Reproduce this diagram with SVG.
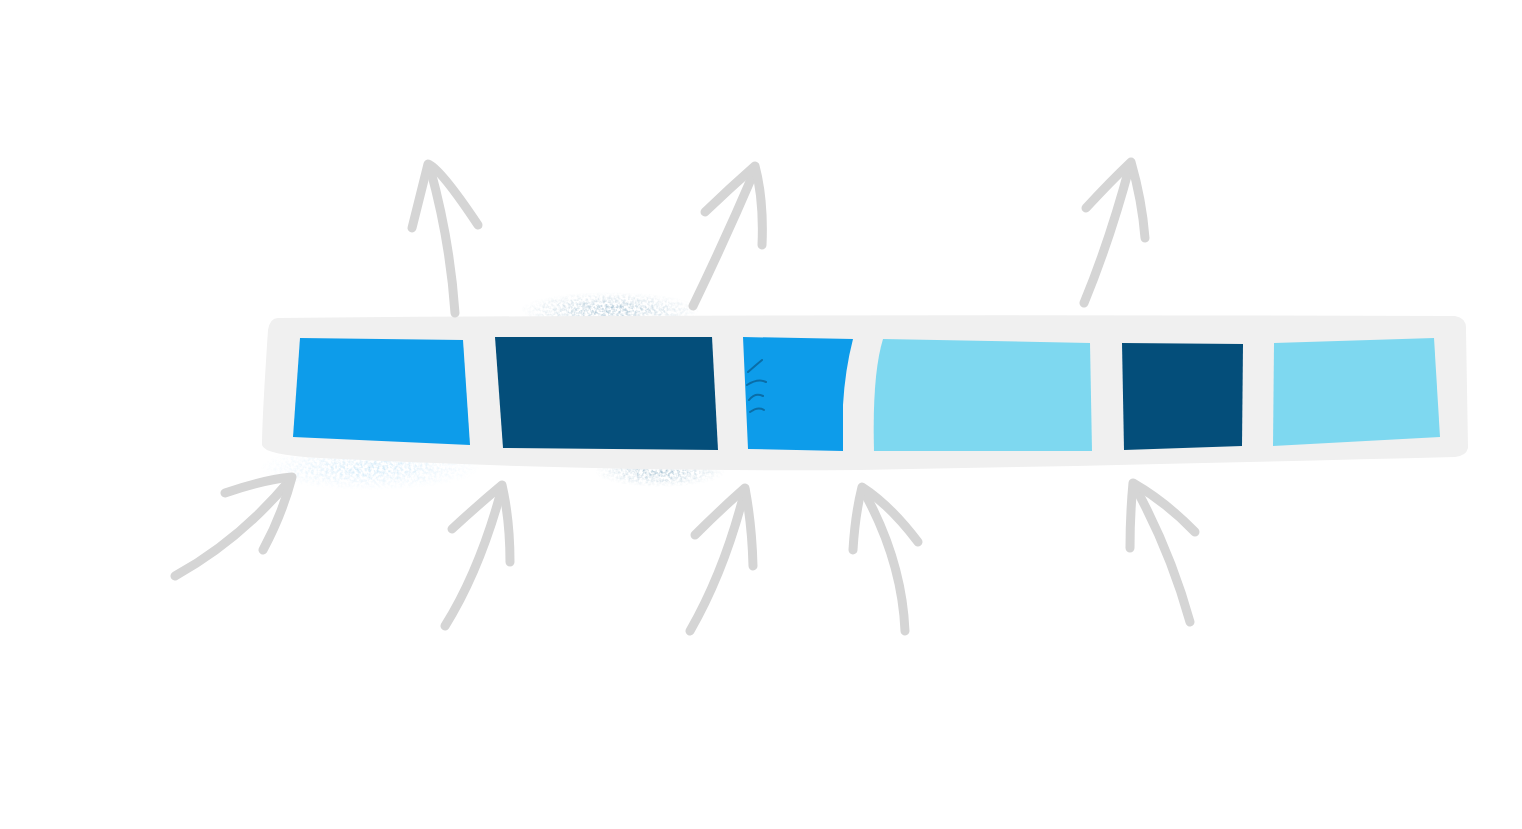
<svg xmlns="http://www.w3.org/2000/svg" width="1522" height="829" viewBox="0 0 1522 829">
<style>
.arrow{fill:none;stroke:#d5d5d5;stroke-width:9;stroke-linecap:round;stroke-linejoin:round}
.blue{fill:#0d9cea}
.dark{fill:#044e7a}
.cyan{fill:#7ed8f0}
</style>
<defs>
<filter id="speck" x="-20%" y="-50%" width="140%" height="200%">
<feTurbulence type="fractalNoise" baseFrequency="0.35" numOctaves="2" seed="3" result="n"/>
<feColorMatrix in="n" type="matrix" values="0 0 0 0 0  0 0 0 0 0  0 0 0 0 0  0 0 0 -2.2 1.4" result="m"/>
<feComposite in="SourceGraphic" in2="m" operator="in" result="c"/>
<feGaussianBlur in="c" stdDeviation="0.6"/>
</filter>
<radialGradient id="smGrey" cx="50%" cy="50%" r="50%">
<stop offset="0" stop-color="#6f9bb6" stop-opacity="0.65"/>
<stop offset="1" stop-color="#6f9bb6" stop-opacity="0"/>
</radialGradient>
<radialGradient id="smBlue" cx="50%" cy="50%" r="50%">
<stop offset="0" stop-color="#8cc9ee" stop-opacity="0.45"/>
<stop offset="1" stop-color="#8cc9ee" stop-opacity="0"/>
</radialGradient>
</defs>
<rect width="1522" height="829" fill="#ffffff"/>
<g id="smudges" filter="url(#speck)">
<ellipse cx="610" cy="310" rx="90" ry="18" fill="url(#smGrey)"/>
<ellipse cx="660" cy="472" rx="65" ry="15" fill="url(#smGrey)"/>
<ellipse cx="370" cy="468" rx="110" ry="22" fill="url(#smBlue)"/>
</g>
<g id="band">
<path d="M278,318 Q700,314 1455,316 Q1467,318 1466,330 L1468,448 Q1466,456 1455,457 Q1100,466 860,470 Q600,472 320,458 Q264,455 262,445 Q262,420 268,330 Q270,318 278,318 Z" fill="#f0f0f0"/>
</g>
<g id="block1"><path class="blue" d="M300,338 L463,340 L470,445 L293,437 Z"/></g>
<g id="block2"><path class="dark" d="M495,337 L712,337 L718,450 L503,448 Z"/></g>
<g id="block3"><path class="blue" d="M743,337 L853,339 Q845,370 843,405 L843,451 L748,449 Z"/>
<path d="M748,372 Q756,365 762,360 M747,385 Q758,378 766,382 M749,400 Q755,392 763,396 M750,412 Q758,406 764,410" fill="none" stroke="#0a5a8a" stroke-width="2" stroke-linecap="round" opacity="0.7"/></g>
<g id="block4"><path class="cyan" d="M883,339 L1090,343 L1092,451 L874,451 Q872,375 883,339 Z"/></g>
<g id="block5"><path class="dark" d="M1122,343 L1243,344 L1242,446 L1124,450 Z"/></g>
<g id="block6"><path class="cyan" d="M1274,343 L1434,338 L1440,437 L1273,446 Z"/></g>
<g id="connectors">
<path class="arrow" d="M455,313 Q450,240 430,168"/>
<path class="arrow" d="M412,228 L428,164 Q440,168 478,225"/>
<path class="arrow" d="M693,306 Q725,240 755,170"/>
<path class="arrow" d="M705,212 Q730,188 755,166 Q764,200 762,245"/>
<path class="arrow" d="M1084,303 Q1110,240 1130,165"/>
<path class="arrow" d="M1086,208 Q1110,182 1131,162 Q1142,200 1145,238"/>
<path class="arrow" d="M175,576 Q240,540 290,480"/>
<path class="arrow" d="M225,493 Q262,480 292,477 Q282,515 263,550"/>
<path class="arrow" d="M445,626 Q480,570 502,488"/>
<path class="arrow" d="M452,529 Q478,505 502,485 Q510,520 510,562"/>
<path class="arrow" d="M690,631 Q725,570 745,490"/>
<path class="arrow" d="M695,535 Q720,510 745,488 Q752,525 753,566"/>
<path class="arrow" d="M905,631 Q902,560 863,490"/>
<path class="arrow" d="M853,550 Q855,515 862,487 Q890,505 918,542"/>
<path class="arrow" d="M1190,622 Q1170,550 1134,485"/>
<path class="arrow" d="M1130,548 Q1130,515 1133,483 Q1166,502 1195,532"/>
</g>
</svg>
